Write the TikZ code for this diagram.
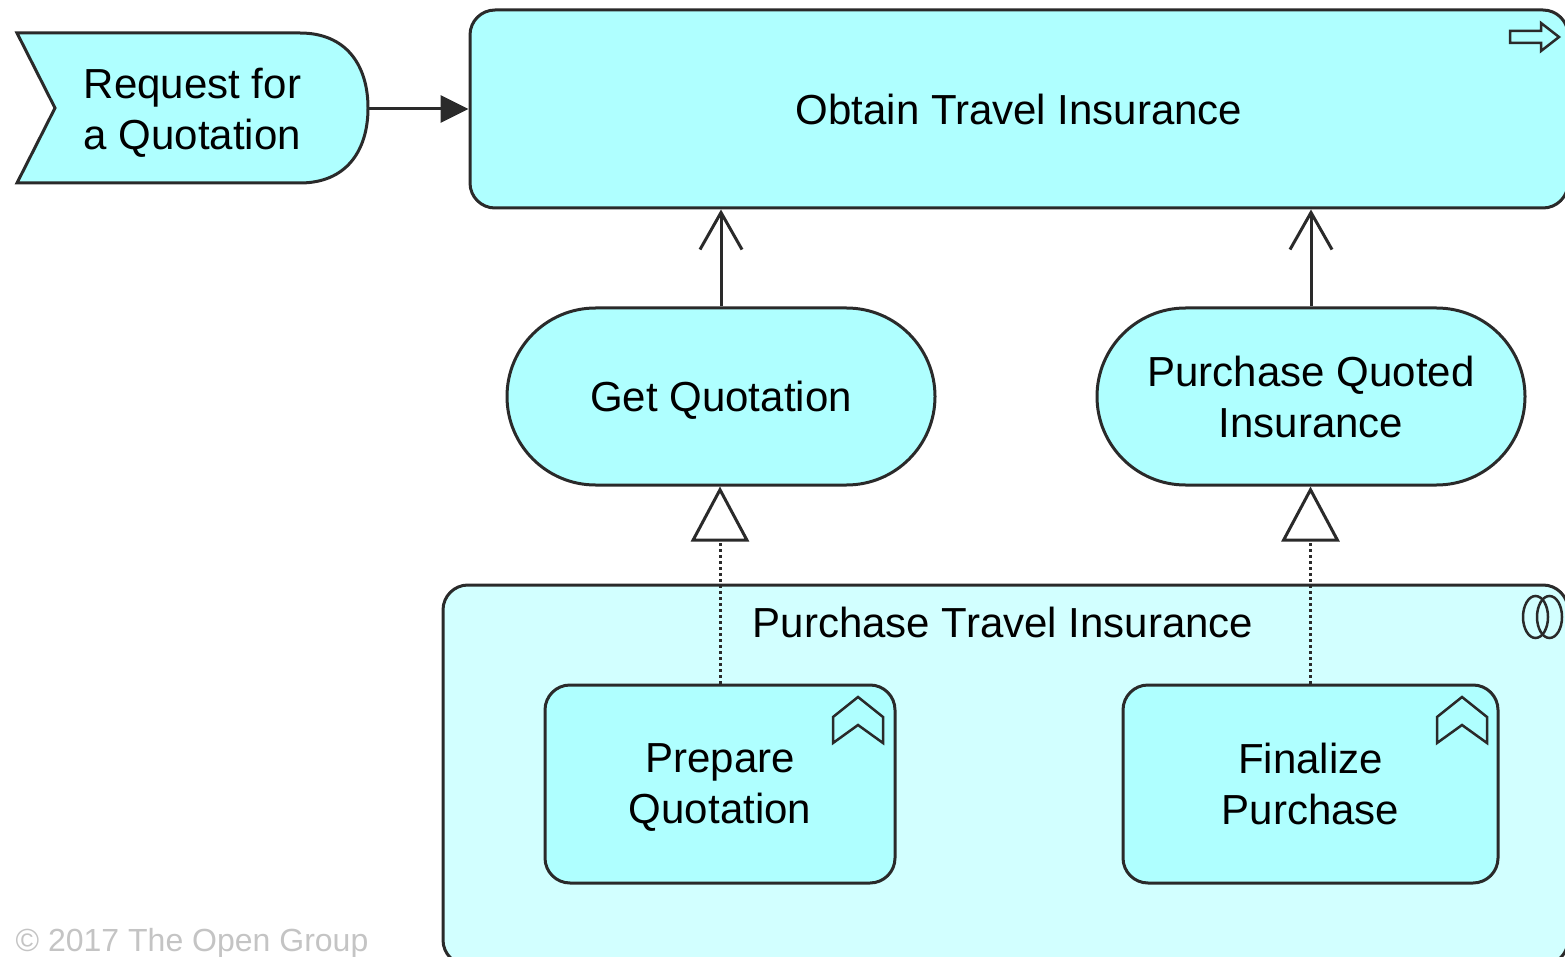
\documentclass[tikz,border=0pt]{standalone}
\usepackage{fontspec}
\setmainfont{Liberation Sans}
\usetikzlibrary{arrows.meta,shapes.misc}
\definecolor{bfill}{HTML}{AFFFFF}
\definecolor{cfill}{HTML}{D2FFFF}
\definecolor{edge}{HTML}{2A2A2A}
\definecolor{cpy}{HTML}{C4C4C4}
\begin{document}
\begin{tikzpicture}[x=1pt,y=-1pt,
  lbl/.style={font=\fontsize{42}{51}\selectfont, align=center, text=black, inner sep=0pt, text depth=0pt},
  shapeline/.style={draw=edge, line width=3pt},
  box/.style={shapeline, fill=bfill, rounded corners=25pt, lbl},
  proc/.style={shapeline, fill=bfill, rounded rectangle, lbl},
  icon/.style={draw=edge, line width=2.5pt, line join=miter},
  conn/.style={draw=edge, line width=3pt},
  realize/.style={conn, dash pattern=on 3pt off 3pt, -{Triangle[fill=white,length=55pt,width=58pt]}},
  serve/.style={conn, -{Straight Barb[length=37pt,width=42pt]}}]
\clip (0,0) rectangle (1565,957);
\useasboundingbox (0,0) rectangle (1565,957);

% Business event
\draw[shapeline, fill=bfill, line join=miter] (17,33) -- (300,33)
  .. controls (346,33) and (368,65) .. (368,108)
  .. controls (368,151) and (346,183) .. (300,183) -- (17,183) -- (55,108) -- cycle;
\node[lbl, minimum width=351pt, minimum height=150pt] (req) at (192.5,109) {Request for\\a Quotation};

% Business process
\node[box, minimum width=1098pt, minimum height=198pt] (obtain) at (1019,109) {Obtain Travel Insurance};
\draw[icon] (1510,31) -- (1541,31) -- (1541,23) -- (1559,37) -- (1541,51) -- (1541,43) -- (1510,43) -- cycle;

% Business services
\node[proc, minimum width=428pt, minimum height=177pt] (gq) at (721,396.5) {Get Quotation};
\node[proc, minimum width=428pt, minimum height=177pt] (pqi) at (1311,396.5) {Purchase Quoted\\Insurance};

% Business collaboration
\node[shapeline, fill=cfill, rounded corners=25pt, minimum width=1125pt, minimum height=380pt] (pti) at (1005.5,775) {};
\node[lbl] (ptit) at (1003,622) {Purchase Travel Insurance};
\draw[icon] (1535.5,617) ellipse [x radius=12.5pt, y radius=21pt];
\draw[icon] (1549.5,617) ellipse [x radius=12.5pt, y radius=21pt];

% Business functions
\node[box, minimum width=350pt, minimum height=198pt] (pq) at (720,784) {Prepare\\Quotation};
\draw[icon] (833,743) -- (833,717) -- (858,697) -- (883,717) -- (883,743) -- (858,725) -- cycle;
\node[box, minimum width=375pt, minimum height=198pt] (fp) at (1310.5,784) {Finalize\\Purchase};
\draw[icon] (1437,743) -- (1437,717) -- (1462,697) -- (1487,717) -- (1487,743) -- (1462,725) -- cycle;

% Connectors
\draw[conn, -{Triangle[length=28pt,width=27pt]}] (req.east) -- (obtain.west |- req.east);
\draw[serve] (gq.north) -- (gq.north |- obtain.south);
\draw[serve] (pqi.north) -- (pqi.north |- obtain.south);
\draw[realize] (pq.north) -- (pq.north |- gq.south);
\draw[realize] (fp.north) -- (fp.north |- pqi.south);

% Copyright
\node[font=\fontsize{32}{38}\selectfont, text=cpy, inner sep=0pt] (copy) at (192,943) {© 2017 The Open Group};
\end{tikzpicture}
\end{document}
